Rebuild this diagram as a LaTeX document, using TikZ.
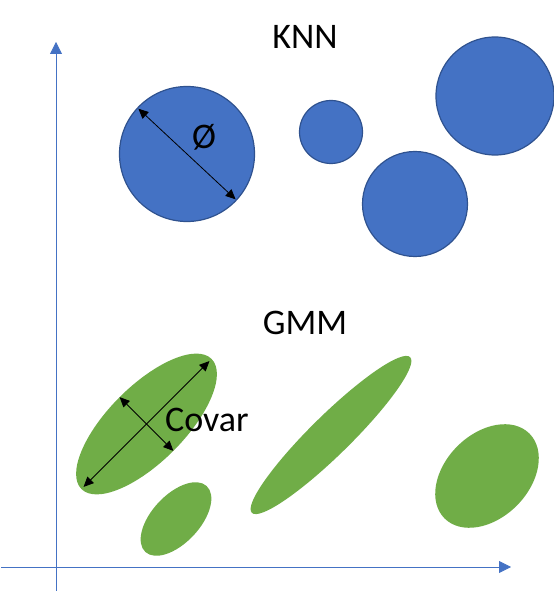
\documentclass[tikz,border=0pt]{standalone}
\usepackage{fontspec}
\setmainfont{Carlito}
\usetikzlibrary{arrows.meta,shapes.geometric}
\definecolor{knnblue}{HTML}{4472C4}
\definecolor{knnedge}{HTML}{2F528F}
\definecolor{gmmgreen}{HTML}{70AD47}

\begin{document}
\begin{tikzpicture}[x=1pt, y=1pt, inner sep=0pt, outer sep=0pt,
    every node/.style={font=\fontsize{36}{40}\selectfont},
    blob/.style={circle, draw=knnedge, line width=1.2pt, fill=knnblue},
    cloud/.style={ellipse, fill=gmmgreen},
    axis/.style={draw=knnblue, line width=0.8pt, -{Triangle[length=12pt,width=12pt]}},
    dia/.style={{Triangle[length=10pt,width=9pt]}-{Triangle[length=10pt,width=9pt]}, line width=0.8pt}]
      \useasboundingbox (0, 0) rectangle (554, 592);

      \coordinate (xstart) at (1, 25);
      \coordinate (xend) at (511, 25);
      \coordinate (ystart) at (56, 1);
      \coordinate (yend) at (56, 550);
      \draw[axis] (xstart) -- (xend);
      \draw[axis] (ystart) -- (yend);

      \node (knn) at (305, 555) {KNN};
      \node[blob, minimum size=135pt] (c1) at (187, 438) {};
      \node[blob, minimum size=63pt] (c2) at (331, 460) {};
      \node[blob, minimum size=118pt] (c3) at (495, 496) {};
      \node[blob, minimum size=105pt] (c4) at (415, 388) {};
      \draw[dia, shorten <=1pt, shorten >=1pt] (c1.137) -- (c1.-43);
      \node (dm) at (204, 455) {Ø};

      \node (gmm) at (305, 269) {GMM};
      \node[cloud, minimum width=184pt, minimum height=76pt, rotate=45] (e1) at (146.5, 168) {};
      \node[cloud, minimum width=90pt, minimum height=48pt, rotate=47] (e2) at (176, 73) {};
      \node[cloud, minimum width=222pt, minimum height=40pt, rotate=44.5] (e3) at (331, 157) {};
      \node[cloud, minimum width=120pt, minimum height=84pt, rotate=45] (e4) at (487, 116) {};
      \draw[dia, shorten <=3pt, shorten >=3pt] (e1.west) -- (e1.east);
      \draw[dia] (e1.north) -- (e1.south);
      \node (cv) at (207, 172) {Covar};

    \end{tikzpicture}
\end{document}
